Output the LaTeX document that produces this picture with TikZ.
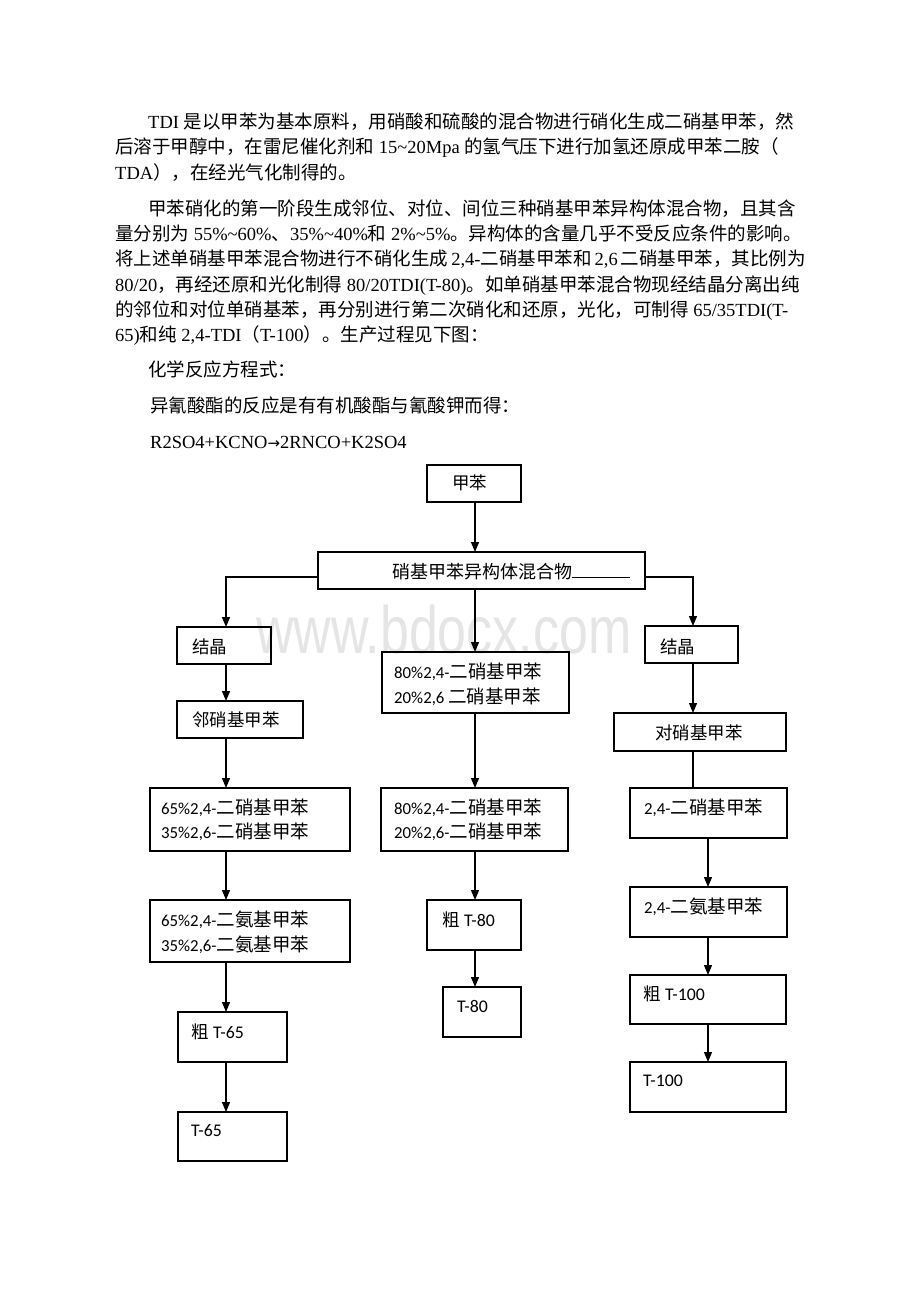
\documentclass[tikz,border=0pt]{standalone}
\usepackage{fontspec}
\setmainfont{Liberation Serif}
\newfontfamily\cjk{Noto Sans CJK SC}
\newfontfamily\calfont{Carlito}
\newfontfamily\wmfont{Liberation Sans}
\newfontfamily\arrfont{DejaVu Sans}
\usetikzlibrary{arrows.meta}
\newcommand\zh[1]{{\cjk #1}}
\newcommand\lt[1]{{\calfont\fontsize{16.8}{20}\selectfont #1}}
\newcommand\ltb[1]{{\calfont\fontsize{17.8}{20}\selectfont #1}}
\newcommand\bx[5]{\node[box, minimum width={#4-#2}, minimum height={#5-#3}] (#1) at ({(#2+#4)/2},{(#3+#5)/2}) {};}
\begin{document}
\begin{tikzpicture}[x=1pt,y=-1pt,
  box/.style={draw, line width=1.1pt, inner sep=0pt, outer sep=0pt},
  arr/.style={line width=1.2pt, -{Triangle[length=10pt,width=8pt]}},
  ln/.style={line width=1.2pt},
  lbl/.style={anchor=base west, inner sep=0pt, font=\fontsize{17.5}{20}\selectfont},
  mlbl/.style={anchor=base west, inner sep=0pt, font=\cjk\fontsize{18.5}{20}\selectfont},
  body/.style={anchor=base west, inner sep=0pt, font=\fontsize{18.5}{22}\selectfont}]
\useasboundingbox (0,0) rectangle (920,1302);
\fill[white] (0,0) rectangle (920,1302);

% watermark
\node[anchor=base west, inner sep=0pt, text=black!10, font=\wmfont\fontsize{67}{67}\selectfont, xscale=0.775] (wm) at (256,653) {www.bdocx.com};

% body text
\node[body] (l1) at (148,128) {TDI \zh{是以甲苯为基本原料，用硝酸和硫酸的混合物进行硝化生成二硝基甲苯，然}};
\node[body] (l2) at (115,153.5) {\zh{后溶于甲醇中，在雷尼催化剂和} 15\textasciitilde20Mpa \zh{的氢气压下进行加氢还原成甲苯二胺（}};
\node[body] (l3) at (115,179) {TDA\zh{），在经光气化制得的。}};
\node[body] (l4) at (148,215.5) {\zh{甲苯硝化的第一阶段生成邻位、对位、间位三种硝基甲苯异构体混合物，且其含}};
\node[body] (l5) at (115,240.7) {\zh{量分别为} 55\%\textasciitilde60\%\zh{、}35\%\textasciitilde40\%\zh{和} 2\%\textasciitilde5\%\zh{。异构体的含量几乎不受反应条件的影响。}};
\node[body] (l6) at (115,265.9) {\zh{将上述单硝基甲苯混合物进行不硝化生成}\,2,4-\zh{二硝基甲苯和}\,2,6\,\zh{二硝基甲苯，其比例为}};
\node[body] (l7) at (115,291.1) {80/20\zh{，再经还原和光化制得} 80/20TDI(T-80)\zh{。如单硝基甲苯混合物现经结晶分离出纯}};
\node[body] (l8) at (115,316.3) {\zh{的邻位和对位单硝基苯，再分别进行第二次硝化和还原，光化，可制得} 65/35TDI(T-};
\node[body] (l9) at (115,341.5) {65)\zh{和纯} 2,4-TDI\zh{（}T-100\zh{）。生产过程见下图：}};
\node[body] (l10) at (148,376) {\zh{化学反应方程式：}};
\node[body] (l11) at (150,412) {\zh{异氰酸酯的反应是有有机酸酯与氰酸钾而得：}};
\node[body] (l12) at (150,448) {R2SO4+KCNO{\arrfont\fontsize{15}{18}\selectfont →}2RNCO+K2SO4};

% boxes
\bx{tol}{427}{465}{521}{502}
\bx{mix}{318}{552}{645}{589}
\bx{crL}{177}{627}{271}{664}
\bx{oN}{177}{701}{303}{738}
\bx{dnL}{150}{788}{350}{851}
\bx{daL}{150}{900}{350}{962}
\bx{rL}{178}{1012}{287}{1062}
\bx{pL}{178}{1112}{287}{1161}
\bx{dnMa}{382}{652}{569}{713}
\bx{dnMb}{381}{788}{568}{851}
\bx{rM}{427}{900}{521}{950}
\bx{pM}{443}{987}{521}{1037}
\bx{crR}{645}{626}{738}{663}
\bx{pN}{614}{713}{786}{751}
\bx{dnR}{630}{788}{787}{838}
\bx{daR}{630}{887}{787}{937}
\bx{rR}{630}{975}{786}{1024}
\bx{pR}{630}{1062}{786}{1112}

% labels
\node[lbl] (ttol) at (452,489.6) {\zh{甲苯}};
\node[lbl, font=\fontsize{18}{20}\selectfont] (tmix) at (392,578.8) {\zh{硝基甲苯异构体混合物}};
\node[lbl] (tcrL) at (192,653.6) {\zh{结晶}};
\node[lbl] (toN) at (192,726.6) {\zh{邻硝基甲苯}};
\node[mlbl] (tdnLa) at (161,814.8) {\lt{65\%2,4-}二硝基甲苯};
\node[mlbl] (tdnLb) at (161,838.8) {\lt{35\%2,6-}二硝基甲苯};
\node[mlbl] (tdaLa) at (161,926.8) {\lt{65\%2,4-}二氨基甲苯};
\node[mlbl] (tdaLb) at (161,951.8) {\lt{35\%2,6-}二氨基甲苯};
\node[lbl] (trL) at (191,1038.6) {\zh{粗} \ltb{T-65}};
\node[lbl] (tpL) at (191,1136.6) {\ltb{T-65}};
\node[mlbl] (tdnMa) at (394,678.8) {\lt{80\%2,4-}二硝基甲苯};
\node[mlbl] (tdnMb) at (394,703.8) {\lt{20\%2,6 }二硝基甲苯};
\node[mlbl] (tdnMc) at (394,814.8) {\lt{80\%2,4-}二硝基甲苯};
\node[mlbl] (tdnMd) at (394,838.8) {\lt{20\%2,6-}二硝基甲苯};
\node[lbl] (trM) at (442,926.6) {\zh{粗} \ltb{T-80}};
\node[lbl] (tpM) at (457,1012.6) {\ltb{T-80}};
\node[lbl] (tcrR) at (660,653.6) {\zh{结晶}};
\node[lbl] (tpN) at (655,739.6) {\zh{对硝基甲苯}};
\node[mlbl] (tdnR) at (644,814.8) {\lt{2,4-}二硝基甲苯};
\node[mlbl] (tdaR) at (644,913.8) {\lt{2,4-}二氨基甲苯};
\node[lbl] (trR) at (643,1000.6) {\zh{粗} \ltb{T-100}};
\node[lbl] (tpR) at (643,1086.6) {\ltb{T-100}};

% column coordinates
\coordinate (cL) at (226,0);
\coordinate (cM) at (475,0);
\coordinate (cR) at (693,0);
\coordinate (cRb) at (708,0);
\coordinate (yb) at (0,577);
\coordinate (u1) at (572,577);
\coordinate (u2) at (630,577);

% connectors
\draw[arr] (tol.south -| cM) -- (mix.north -| cM);
\draw[arr] (mix.west |- yb) -| (crL.north -| cL);
\draw[arr] (mix.east |- yb) -| (crR.north -| cR);
\draw[arr] (mix.south -| cM) -- (dnMa.north -| cM);
\draw[line width=0.9pt] (u1) -- (u2);

\draw[arr] (crL.south -| cL) -- (oN.north -| cL);
\draw[arr] (oN.south -| cL) -- (dnL.north -| cL);
\draw[arr] (dnL.south -| cL) -- (daL.north -| cL);
\draw[arr] (daL.south -| cL) -- (rL.north -| cL);
\draw[arr] (rL.south -| cL) -- (pL.north -| cL);

\draw[arr] (dnMa.south -| cM) -- (dnMb.north -| cM);
\draw[arr] (dnMb.south -| cM) -- (rM.north -| cM);
\draw[arr] (rM.south -| cM) -- (pM.north -| cM);

\draw[arr] (crR.south -| cR) -- (pN.north -| cR);
\draw[ln] (pN.south -| cR) -- (dnR.north -| cR);
\draw[arr] (dnR.south -| cRb) -- (daR.north -| cRb);
\draw[arr] (daR.south -| cRb) -- (rR.north -| cRb);
\draw[arr] (rR.south -| cRb) -- (pR.north -| cRb);
\end{tikzpicture}
\end{document}
